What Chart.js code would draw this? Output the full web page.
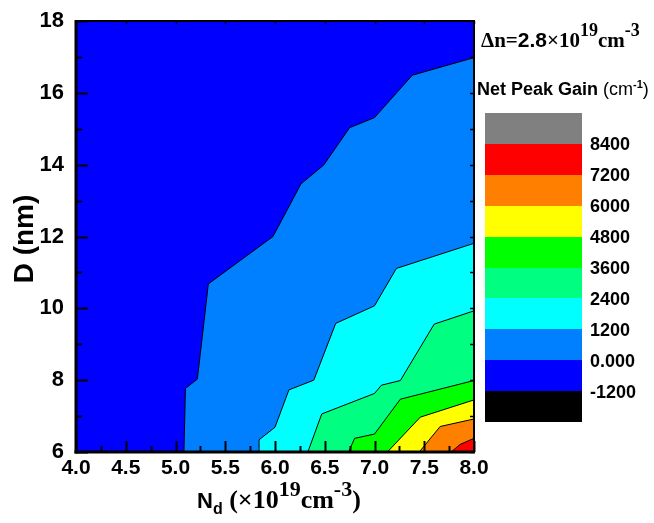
<!DOCTYPE html>
<html>
<head>
<meta charset="utf-8">
<script src="https://cdn.jsdelivr.net/npm/chart.js@4/dist/chart.umd.min.js"></script>
<style>
  html, body { margin: 0; padding: 0; background: #fff; }
  #wrap { width: 654px; height: 523px; }
</style>
</head>
<body>
<div id="wrap"><canvas id="gainChart"></canvas></div>
<script>
// contour levels of net peak gain (cm^-1), colour bar from bottom to top
const levelLabels = ["-1200", "0.000", "1200", "2400", "3600", "4800", "6000", "7200", "8400"];
const bandColors = ["#000000", "#0000ff", "#0080ff", "#00ffff", "#00ff80", "#00ff00", "#ffff00", "#ff8000", "#ff0000", "#808080"];

const xTicks = [4.0, 4.5, 5.0, 5.5, 6.0, 6.5, 7.0, 7.5, 8.0];
const yTicks = [6, 8, 10, 12, 14, 16, 18];

// contour lines: N_d (x10^19 cm^-3) vs D (nm)
const ndTop = [4.0, 8.0];
const dTop = [18, 18];

const nd0 = [5.085, 5.10, 5.22, 5.33, 5.98, 6.26, 6.49, 6.75, 7.00, 7.38, 8.00];
const d0 = [6.00, 7.77, 8.03, 10.68, 12.00, 13.46, 13.99, 15.03, 15.31, 16.49, 16.98];

const nd1200 = [5.84, 5.84, 6.00, 6.14, 6.39, 6.61, 7.00, 7.22, 8.00];
const d1200 = [6.00, 6.34, 6.69, 7.73, 8.00, 9.58, 10.07, 11.11, 11.81];

const nd2400 = [6.33, 6.47, 7.00, 7.07, 7.26, 7.60, 8.00];
const d2400 = [6.00, 7.06, 7.63, 7.86, 7.99, 9.56, 9.93];

const nd3600 = [6.74, 6.80, 7.00, 7.26, 8.00];
const d3600 = [6.00, 6.38, 6.50, 7.47, 7.99];

const nd4800 = [7.13, 7.46, 8.00];
const d4800 = [6.00, 6.97, 7.45];

const nd6000 = [7.45, 7.66, 8.00];
const d6000 = [6.00, 6.71, 6.92];

const nd7200 = [7.77, 7.86, 8.00];
const d7200 = [6.00, 6.21, 6.38];

function pts(xs, ys) {
  return xs.map((x, i) => ({ x: x, y: ys[i] }));
}

function contour(xs, ys, color, edge) {
  return {
    data: pts(xs, ys),
    showLine: true,
    fill: "start",
    backgroundColor: color,
    borderColor: "#000",
    borderWidth: edge ? 1 : 0,
    pointRadius: 0,
    tension: 0
  };
}

// dataset 0 is drawn on top, so the highest level comes first
const datasets = [
  contour(nd7200, d7200, bandColors[8], true),
  contour(nd6000, d6000, bandColors[7], true),
  contour(nd4800, d4800, bandColors[6], true),
  contour(nd3600, d3600, bandColors[5], true),
  contour(nd2400, d2400, bandColors[4], true),
  contour(nd1200, d1200, bandColors[3], true),
  contour(nd0, d0, bandColors[2], true),
  contour(ndTop, dTop, bandColors[1], false)
];

const SANS = '"Liberation Sans", Arial, sans-serif';
const SERIF = '"Liberation Serif", "Times New Roman", serif';

function drawRuns(ctx, x, y, runs) {
  for (const r of runs) {
    ctx.font = r.font;
    ctx.fillText(r.t, x, y + (r.dy || 0));
    x += ctx.measureText(r.t).width;
  }
}

const framePlugin = {
  id: "frame",
  afterDraw(chart) {
    const ctx = chart.ctx;
    const a = chart.chartArea;
    const xs = chart.scales.x, ys = chart.scales.y;
    ctx.save();
    ctx.strokeStyle = "#000";
    ctx.fillStyle = "#000";
    ctx.lineCap = "butt";

    // ticks
    ctx.lineWidth = 2;
    for (let v = 4; v <= 8.001; v += 0.25) {
      const px = Math.round(xs.getPixelForValue(v)) + 0.5;
      const len = Math.abs(v * 2 - Math.round(v * 2)) < 0.01 ? 11 : 6;
      ctx.beginPath(); ctx.moveTo(px, a.bottom); ctx.lineTo(px, a.bottom - len); ctx.stroke();
    }
    for (let v = 6; v <= 18; v += 1) {
      const py = Math.round(ys.getPixelForValue(v)) + 0.5;
      const len = v % 2 === 0 ? 12 : 6;
      ctx.beginPath(); ctx.moveTo(a.left, py); ctx.lineTo(a.left + len, py); ctx.stroke();
    }
    ctx.lineWidth = 1.5;
    for (let v = 6; v <= 18; v += 1) {
      const py = Math.round(ys.getPixelForValue(v)) + 0.5;
      ctx.beginPath(); ctx.moveTo(a.right, py); ctx.lineTo(a.right - 4, py); ctx.stroke();
    }
    for (let v = 4; v <= 8.001; v += 0.5) {
      const px = Math.round(xs.getPixelForValue(v)) + 0.5;
      ctx.beginPath(); ctx.moveTo(px, a.top); ctx.lineTo(px, a.top + 3); ctx.stroke();
    }

    // frame
    ctx.lineWidth = 3;
    ctx.beginPath(); ctx.moveTo(a.left, a.top - 1); ctx.lineTo(a.left, a.bottom + 1.5); ctx.stroke();
    ctx.beginPath(); ctx.moveTo(a.left - 1.5, a.bottom); ctx.lineTo(a.right + 1, a.bottom); ctx.stroke();
    ctx.lineWidth = 2;
    ctx.beginPath(); ctx.moveTo(a.left, a.top); ctx.lineTo(a.right + 1, a.top); ctx.stroke();
    ctx.beginPath(); ctx.moveTo(a.right, a.top); ctx.lineTo(a.right, a.bottom); ctx.stroke();

    // colour bar
    const barX = 485, barW = 97, barTop = 113, bandH = 30.9;
    const n = bandColors.length;
    for (let i = 0; i < n; i++) {
      const c = bandColors[n - 1 - i];
      ctx.fillStyle = c;
      ctx.fillRect(barX, Math.round(barTop + i * bandH), barW, Math.round(barTop + (i + 1) * bandH) - Math.round(barTop + i * bandH));
    }
    ctx.fillStyle = "#000";
    ctx.font = "bold 18px " + SANS;
    ctx.textAlign = "left";
    ctx.textBaseline = "middle";
    for (let i = 0; i < levelLabels.length; i++) {
      const lab = levelLabels[levelLabels.length - 1 - i];
      ctx.fillText(lab, 590, barTop + (i + 1) * bandH + 1.5);
    }

    // texts
    ctx.textBaseline = "alphabetic";
    drawRuns(ctx, 481, 47, [
      { t: "\u0394n=", font: "bold 21px " + SERIF },
      { t: "2.8", font: "bold 21px " + SANS },
      { t: "\u00d710", font: "bold 21px " + SERIF },
      { t: "19", font: "bold 18px " + SERIF, dy: -11 },
      { t: "cm", font: "bold 21px " + SERIF },
      { t: "-3", font: "bold 18px " + SERIF, dy: -11 }
    ]);
    drawRuns(ctx, 477, 95, [
      { t: "Net Peak Gain ", font: "bold 18px " + SANS },
      { t: "(cm", font: "18px " + SANS },
      { t: "-1", font: "bold 11px " + SANS, dy: -7 },
      { t: ")", font: "18px " + SANS }
    ]);

    drawRuns(ctx, 197, 508, [
      { t: "N", font: "bold 22px " + SANS },
      { t: "d", font: "bold 16px " + SANS, dy: 6 },
      { t: " (\u00d710", font: "bold 26px " + SERIF },
      { t: "19", font: "bold 22px " + SERIF, dy: -12 },
      { t: "cm", font: "bold 26px " + SERIF },
      { t: "-3", font: "bold 22px " + SERIF, dy: -12 },
      { t: ")", font: "bold 26px " + SERIF }
    ]);

    ctx.translate(33, 239);
    ctx.rotate(-Math.PI / 2);
    ctx.textAlign = "center";
    ctx.font = "bold 28px " + SANS;
    ctx.fillText("D (nm)", 0, 0);
    ctx.restore();
  }
};

new Chart(document.getElementById("gainChart"), {
  type: "scatter",
  data: { datasets: datasets },
  options: {
    responsive: true,
    maintainAspectRatio: false,
    animation: false,
    layout: { padding: { top: 21, right: 180, left: 0, bottom: 0 } },
    plugins: { legend: { display: false }, tooltip: { enabled: false } },
    scales: {
      x: {
        type: "linear",
        min: xTicks[0],
        max: xTicks[xTicks.length - 1],
        afterBuildTicks: (s) => { s.ticks = xTicks.map(v => ({ value: v })); },
        afterFit: (s) => { s.height = 71; },
        grid: { display: false },
        border: { display: false },
        ticks: {
          color: "#000",
          padding: -4,
          maxRotation: 0,
          autoSkip: false,
          font: { family: SANS, size: 21, weight: "bold" },
          callback: (v) => Number(v).toFixed(1)
        }
      },
      y: {
        type: "linear",
        min: yTicks[0],
        max: yTicks[yTicks.length - 1],
        afterBuildTicks: (s) => { s.ticks = yTicks.map(v => ({ value: v })); },
        afterFit: (s) => { s.width = 76; },
        grid: { display: false },
        border: { display: false },
        ticks: {
          color: "#000",
          padding: 4,
          autoSkip: false,
          font: { family: SANS, size: 22, weight: "bold" }
        }
      }
    }
  },
  plugins: [framePlugin]
});
</script>
</body>
</html>
